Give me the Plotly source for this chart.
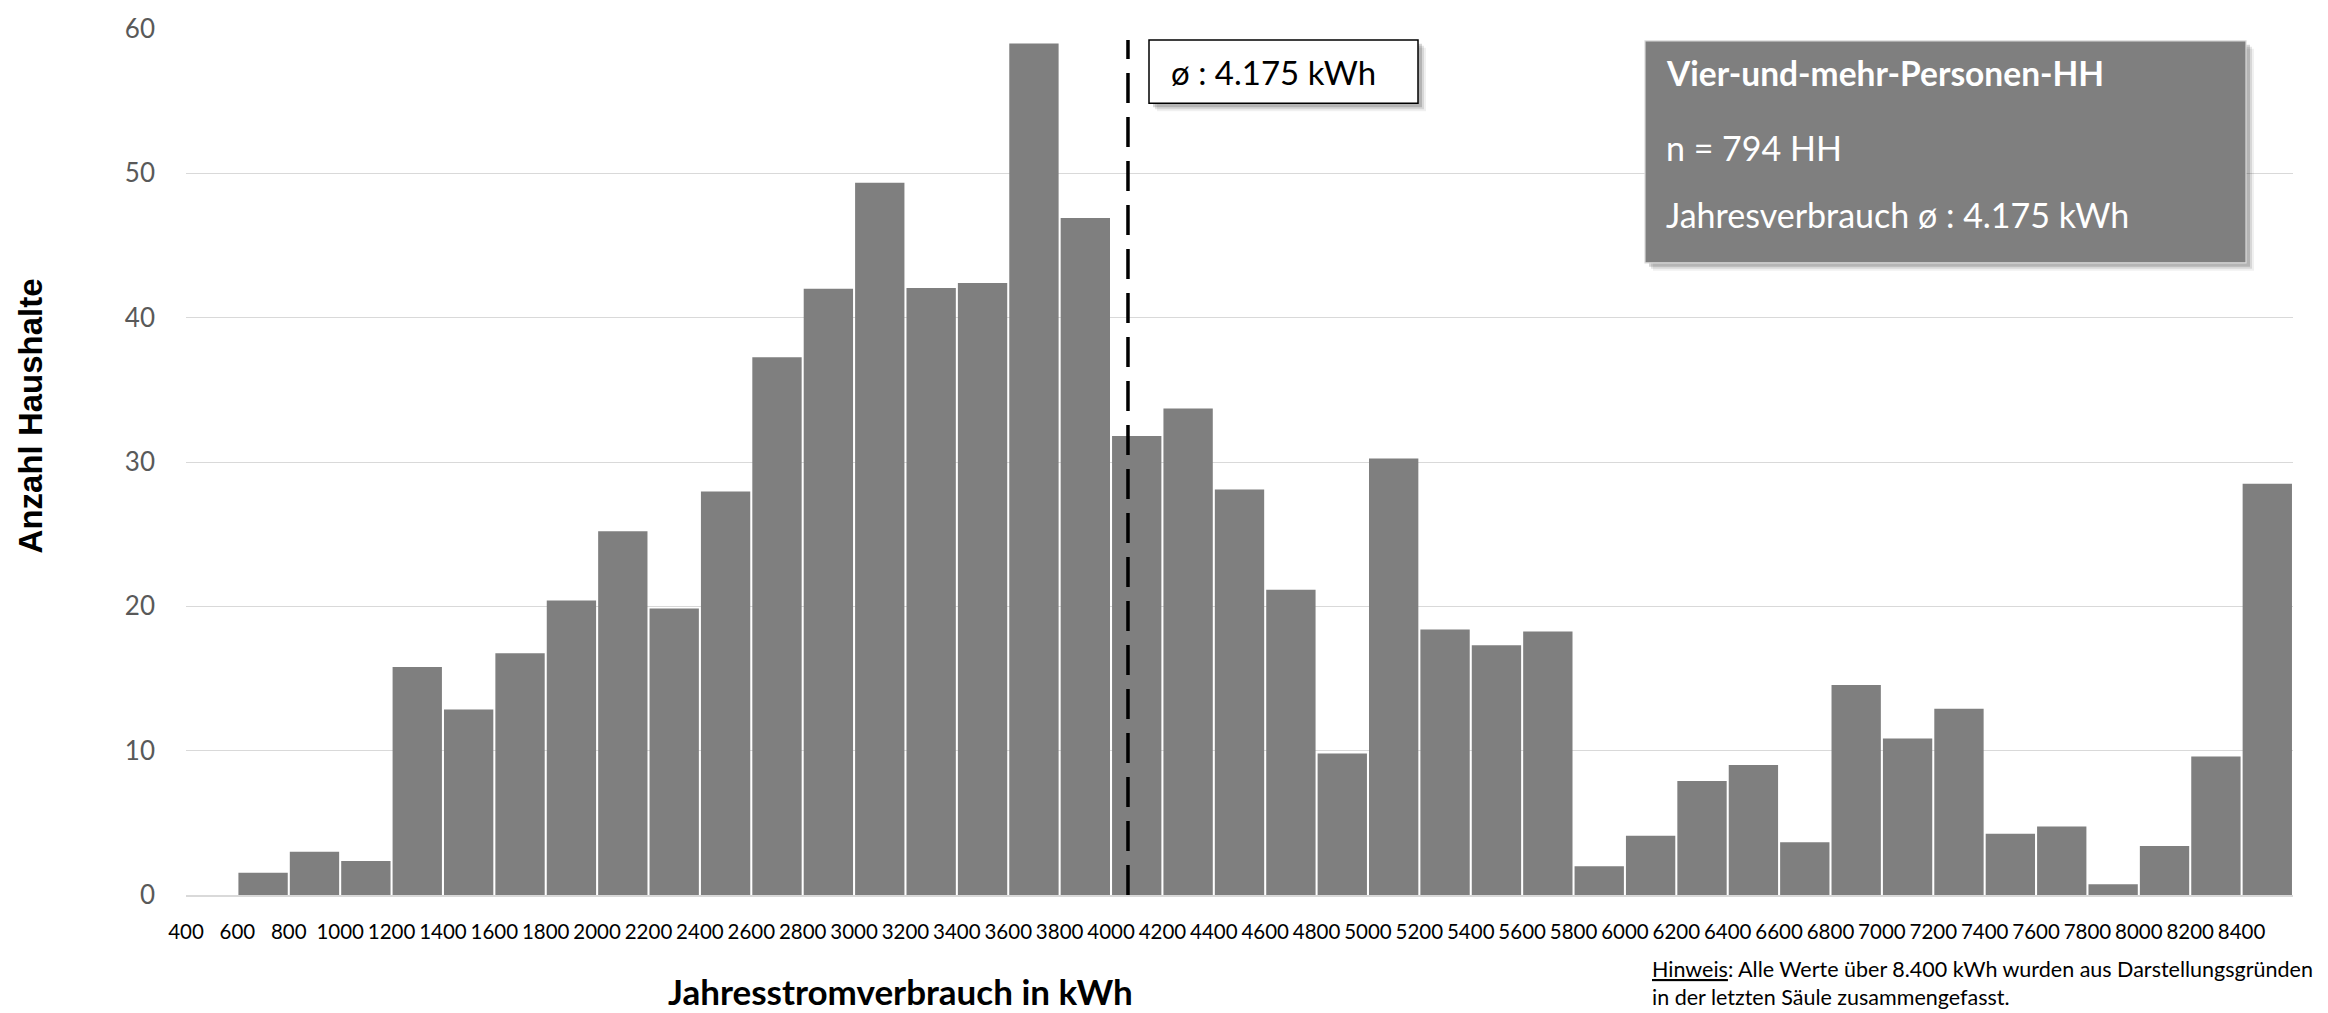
import plotly.graph_objects as go

# ---- data ----
bin_starts = [400, 600, 800, 1000, 1200, 1400, 1600, 1800, 2000, 2200, 2400, 2600, 2800,
              3000, 3200, 3400, 3600, 3800, 4000, 4200, 4400, 4600, 4800, 5000, 5200, 5400,
              5600, 5800, 6000, 6200, 6400, 6600, 6800, 7000, 7200, 7400, 7600, 7800, 8000,
              8200, 8400]
households = [0, 1.55, 3.0, 2.35, 15.8, 12.85, 16.75, 20.4, 25.2, 19.85, 27.95, 37.25, 42.0,
              49.35, 42.05, 42.4, 59.0, 46.9, 31.8, 33.7, 28.1, 21.15, 9.8, 30.25, 18.4, 17.3,
              18.25, 2.0, 4.1, 7.9, 9.0, 3.65, 14.55, 10.85, 12.9, 4.25, 4.75, 0.75, 3.4,
              9.6, 28.5]
tick_labels = [str(b) for b in bin_starts]
bin_width = 200
y_ticks = [0, 10, 20, 30, 40, 50, 60]
mean_line_pos = 4066          # where the dashed mean line is drawn in the reference
mean_label = "ø : 4.175 kWh"
info_title = "Vier-und-mehr-Personen-HH"
info_n = "n = 794 HH"
info_mean = "Jahresverbrauch ø : 4.175 kWh"
x_title = "Jahresstromverbrauch in kWh"
y_title = "Anzahl Haushalte"
note_line1 = "<u>Hinweis</u>: Alle Werte über 8.400 kWh wurden aus Darstellungsgründen"
note_line2 = "in der letzten Säule zusammengefasst."

# ---- layout geometry (pixels) ----
W, H = 2328, 1013
L, R, T, B = 186, 2293, 21, 895


def px(x):
    return (x - L) / (R - L)


def py(y):
    return (B - y) / (B - T)


BAR = "#7f7f7f"
FONT = "Lato, 'Open Sans', sans-serif"

fig = go.Figure()
fig.add_trace(go.Bar(
    x=[b + bin_width / 2 for b in bin_starts],
    y=households,
    marker=dict(color=BAR, line=dict(width=0)),
    hoverinfo="x+y",
))

fig.update_layout(
    width=W, height=H,
    margin=dict(l=L, r=W - R, t=T, b=H - B, pad=0),
    paper_bgcolor="white", plot_bgcolor="white",
    bargap=0.04,
    showlegend=False,
    xaxis=dict(
        range=[bin_starts[0], bin_starts[-1] + bin_width],
        tickmode="array", tickvals=bin_starts, ticktext=tick_labels,
        tickangle=0, tickfont=dict(family=FONT, size=20.5, color="black"),
        showgrid=False, zeroline=False,
        showline=True, linecolor="#d9d9d9", linewidth=1.5,
        ticks="", ticklabelstandoff=18,
    ),
    yaxis=dict(
        range=[0, 60], tickmode="array", tickvals=y_ticks,
        tickfont=dict(family=FONT, size=26, color="#595959"),
        showgrid=True, gridcolor="#d9d9d9", gridwidth=1.3,
        zeroline=False, showline=False, ticks="", ticklabelstandoff=30,
    ),
)

shapes = []
# dashed mean line
shapes.append(dict(type="line", xref="x", yref="paper",
                   x0=mean_line_pos, x1=mean_line_pos, y0=0, y1=py(32),
                   line=dict(color="black", width=3.5, dash="30px,14px"), layer="above"))


def box_with_shadow(x0, y0, x1, y1, fill, border, bw):
    out = []
    for off, col in [(8, "rgba(0,0,0,0.06)"), (6, "rgba(0,0,0,0.10)"), (4, "rgba(0,0,0,0.16)")]:
        out.append(dict(type="rect", xref="paper", yref="paper",
                        x0=px(x0 + off), x1=px(x1 + off), y0=py(y1 + off), y1=py(y0 + off),
                        fillcolor=col, line=dict(width=0), layer="above"))
    out.append(dict(type="rect", xref="paper", yref="paper",
                    x0=px(x0), x1=px(x1), y0=py(y1), y1=py(y0),
                    fillcolor=fill, line=dict(color=border, width=bw), layer="above"))
    return out


shapes += box_with_shadow(1149, 32, 1418, 96, "white", "black", 1.5)
shapes += box_with_shadow(1645, 33, 2246, 257, BAR, "#d9d9d9", 1.2)
fig.update_layout(shapes=shapes)

ann = []
ann.append(dict(text=mean_label, x=px(1169), y=py(64), xref="paper", yref="paper",
                xanchor="left", yanchor="middle", showarrow=False,
                font=dict(family=FONT, size=33, color="black")))
ann.append(dict(text="<b>" + info_title + "</b>", x=px(1664), y=py(65), xref="paper", yref="paper",
                xanchor="left", yanchor="middle", showarrow=False,
                font=dict(family=FONT, size=33.5, color="white")))
ann.append(dict(text=info_n, x=px(1664), y=py(141), xref="paper", yref="paper",
                xanchor="left", yanchor="middle", showarrow=False,
                font=dict(family=FONT, size=34, color="white")))
ann.append(dict(text=info_mean, x=px(1664), y=py(208), xref="paper", yref="paper",
                xanchor="left", yanchor="middle", showarrow=False,
                font=dict(family=FONT, size=34, color="white")))
ann.append(dict(text="<b>" + x_title + "</b>", x=px(900), y=py(992), xref="paper", yref="paper",
                xanchor="center", yanchor="middle", showarrow=False,
                font=dict(family=FONT, size=35, color="black")))
ann.append(dict(text="<b>" + y_title + "</b>", x=px(30), y=py(412), xref="paper", yref="paper",
                xanchor="center", yanchor="middle", showarrow=False, textangle=-90,
                font=dict(family="'Liberation Sans', Arial, sans-serif", size=33, color="black")))
ann.append(dict(text=note_line1 + "<br>" + note_line2, x=px(1651), y=py(1012),
                xref="paper", yref="paper", align="left",
                xanchor="left", yanchor="bottom", showarrow=False, borderpad=0,
                font=dict(family=FONT, size=21.5, color="black")))
fig.update_layout(annotations=ann)

fig.write_html("out.html", config={"displayModeBar": False},
               post_script="document.body.style.margin='0';document.body.style.padding='0';"
                           "document.documentElement.style.overflow='hidden';")
